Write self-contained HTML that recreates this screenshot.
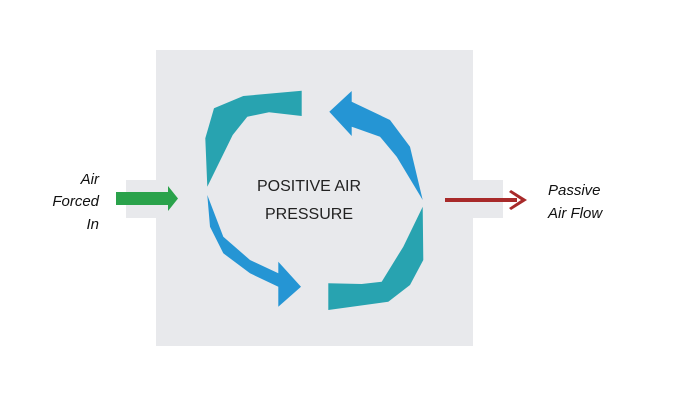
<!DOCTYPE html>
<html><head><style>
body{margin:0;width:681px;height:411px;background:#fff;overflow:hidden}
</style></head><body>
<svg width="681" height="411" xmlns="http://www.w3.org/2000/svg" font-family="Liberation Sans, sans-serif">
<rect x="126" y="180" width="30" height="38" fill="#e8e9ec"/>
<rect x="473" y="180" width="30" height="38" fill="#e8e9ec"/>
<rect x="156" y="50" width="317" height="296" fill="#e8e9ec"/>
<polygon points="301.7,90.7 301.7,116 269,112.3 247.3,116.7 232.7,135 207.3,186.7 205.3,138.3 214,108.3 243.3,96" fill="#28a3b0"/>
<polygon points="329.3,111.7 351.7,91 351.7,101.7 390,120 410,146.7 422.7,200 396.7,156.7 380,136.7 351.7,126.7 351.7,136" fill="#2595d4"/>
<polygon points="207.3,195 210,226.7 223.3,253.3 250,273.3 278.3,286.7 278.3,306.7 301,286.7 278.3,261.7 278.3,273.3 250,260 223.3,236.7" fill="#2595d4"/>
<polygon points="328.3,283.3 328.3,310 388.3,301.7 410,285 423.3,260 422.7,206.7 403.3,246.7 381.7,281.7 361.7,284" fill="#28a3b0"/>
<text x="309" y="191" font-size="16" text-anchor="middle" fill="#222">POSITIVE AIR</text>
<text x="309" y="219" font-size="16" text-anchor="middle" fill="#222">PRESSURE</text>
<polygon points="116,192 168,192 168,186 178,198.5 168,211 168,205 116,205" fill="#2aa24b"/>
<rect x="445" y="198" width="72" height="4" fill="#a82a2a"/>
<polygon points="511,190 527,200 511,210 509,208 521,200 509,192" fill="#a82a2a"/>
<g font-size="15" font-style="italic" fill="#111">
<text x="99" y="184" text-anchor="end">Air</text>
<text x="99" y="206" text-anchor="end">Forced</text>
<text x="99" y="229" text-anchor="end">In</text>
<text x="548" y="195">Passive</text>
<text x="548" y="218">Air Flow</text>
</g>
</svg>
</body></html>
